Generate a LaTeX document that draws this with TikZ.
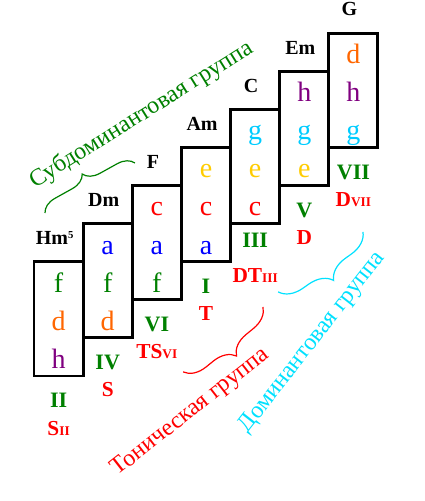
\documentclass[tikz,border=0pt]{standalone}
\usepackage{fontspec}
\setmainfont{Liberation Serif}
\usetikzlibrary{decorations.pathreplacing}
\definecolor{musgreen}{RGB}{0,128,0}
\definecolor{musred}{RGB}{255,0,0}
\definecolor{muscyan}{RGB}{0,225,255}
\definecolor{noteh}{RGB}{128,0,128}
\definecolor{noted}{RGB}{255,102,0}
\definecolor{notef}{RGB}{0,128,0}
\definecolor{notea}{RGB}{0,0,255}
\definecolor{notec}{RGB}{255,0,0}
\definecolor{notee}{RGB}{255,204,0}
\definecolor{noteg}{RGB}{0,204,255}
\newcommand{\fsub}[1]{{\fontsize{10}{10}\selectfont #1}}
\newcommand{\fsup}[1]{\raisebox{0.32em}{\fontsize{8}{8}\selectfont #1}}
\tikzset{
  cell/.style={draw=black,line width=2.2pt,minimum width=36.86pt,
    minimum height=85.74pt,inner sep=0pt},
  note/.style={text=#1,font=\fontsize{21}{21}\selectfont,anchor=base,inner sep=0pt},
  chord/.style={font=\fontsize{15}{15}\selectfont\bfseries,anchor=base,inner sep=0pt},
  degree/.style={text=musgreen,font=\fontsize{16.5}{16.5}\selectfont\bfseries,anchor=base,inner sep=0pt},
  func/.style={text=musred,font=\fontsize{16}{16}\selectfont\bfseries,anchor=base,inner sep=0pt},
  grouplabel/.style={text=#1,font=\fontsize{18}{18}\selectfont,inner sep=0pt},
  gbrace/.style 2 args={draw=#1,line width=0.9pt,decorate,decoration={brace,amplitude=#2}},
}

\begin{document}
\begin{tikzpicture}[x=36.86pt,y=28.58pt]
  \useasboundingbox (-0.692,-3.281) rectangle (7.957,9.869);
  % the seven chords, as three stacked notes each
  \foreach \i/\lo/\mi/\hi in {0/h/d/f,1/d/f/a,2/f/a/c,3/a/c/e,4/c/e/g,5/e/g/h,6/g/h/d}{
    \node[cell] (box\i) at (\i+0.5,\i+1.5) {};
    \node[note=note\lo] (n\i-1) at (\i+0.5,\i+0.2) {\lo};
    \node[note=note\mi] (n\i-2) at (\i+0.5,\i+1.2) {\mi};
    \node[note=note\hi] (n\i-3) at (\i+0.5,\i+2.2) {\hi};
  }
  \foreach \i/\chd in {0/Hm\fsup{5},1/Dm,2/F,3/Am,4/C,5/Em,6/G}
    \node[chord] (chord\i) at (\i+0.42,\i+3.45) {\chd};
  % degrees and functions
  \foreach \i/\deg/\dy in {0/II/-0.83,1/IV/-0.83,2/VI/-0.83,3/I/-0.83,4/III/-0.63,5/V/-0.83,6/VII/-0.83}
    \node[degree] (deg\i) at (\i+0.5,\i+\dy) {\deg};
  \foreach \i/\fn in {0/S\fsub{II},1/S,2/TS\fsub{VI},3/T,4/DT\fsub{III},5/D,6/D\fsub{VII}}
    \node[func] (fn\i) at (\i+0.5,\i-1.55) {\fn};
  % groups
  \coordinate (sdA) at (0.224,4.278);
  \coordinate (sdB) at (2.055,5.591);
  \coordinate (tA) at (3.032,0.105);
  \coordinate (tB) at (4.660,1.811);
  \coordinate (dA) at (4.965,2.205);
  \coordinate (dB) at (6.695,3.780);
  \draw[gbrace={musgreen}{12pt}] (sdA) -- (sdB);
  \draw[gbrace={musred}{16pt}] (tB) -- (tA);
  \draw[gbrace={muscyan}{17pt}] (dB) -- (dA);
  \node[grouplabel=musgreen,rotate=32] (sdname) at (2.192,6.85) {Субдоминантовая группа};
  \node[grouplabel=musred,rotate=38] (tname) at (3.191,-0.953) {Тоническая группа};
  \node[grouplabel=muscyan,rotate=52] (dname) at (5.667,0.879) {Доминантовая группа};
\end{tikzpicture}
\end{document}
